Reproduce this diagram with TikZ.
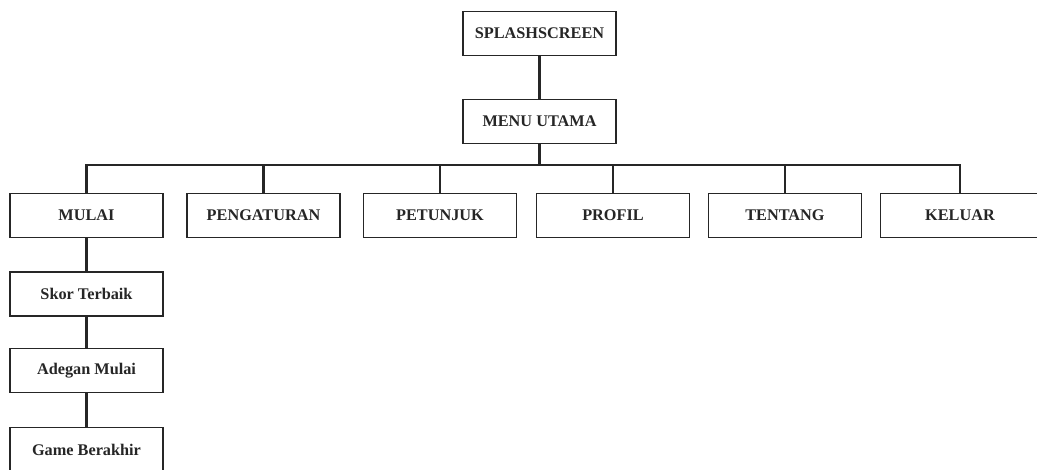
\documentclass[tikz,border=0pt]{standalone}
\usepackage{fontspec}
\setmainfont{Liberation Serif}
\begin{document}
\begin{tikzpicture}[x=0.75pt,y=-0.75pt,
  box/.style={draw=black!85,line width=1.1pt,minimum width=115pt,minimum height=33pt,inner sep=0pt,font=\fontsize{12.2}{14}\selectfont\bfseries,text=black!85},
  conn/.style={draw=black!85,line width=1.6pt}]
\useasboundingbox (0,0) rectangle (1037,469);
\clip (0,0) rectangle (1037,469);
\fill[white] (0,0) rectangle (1037,469);
\node[box] (splash) at (539.5,33.5) {SPLASHSCREEN};
\node[box] (menu) at (539.5,121.5) {MENU UTAMA};
\node[box] (mulai) at (86.5,215.5) {MULAI};
\node[box] (peng) at (263.5,215.5) {PENGATURAN};
\node[box] (petun) at (440,215.5) {PETUNJUK};
\node[box] (profil) at (613,215.5) {PROFIL};
\node[box] (tentang) at (785,215.5) {TENTANG};
\node[box,minimum width=119pt] (keluar) at (960,215.5) {KELUAR};
\node[box] (skor) at (86.5,294) {Skor Terbaik};
\node[box] (adegan) at (86.5,370.5) {Adegan Mulai};
\node[box] (game) at (86.5,449.5) {Game Berakhir};
\coordinate (bus) at (539.5,165);
\draw[conn] (splash) -- (menu);
\draw[conn] (menu) -- (bus);
\draw[conn] (mulai.north) |- (bus) -| (keluar.north);
\draw[conn] (peng.north) -- (peng.north |- bus);
\draw[conn] (petun.north) -- (petun.north |- bus);
\draw[conn] (profil.north) -- (profil.north |- bus);
\draw[conn] (tentang.north) -- (tentang.north |- bus);
\draw[conn] (mulai) -- (skor);
\draw[conn] (skor) -- (adegan);
\draw[conn] (adegan) -- (game);
\end{tikzpicture}
\end{document}
